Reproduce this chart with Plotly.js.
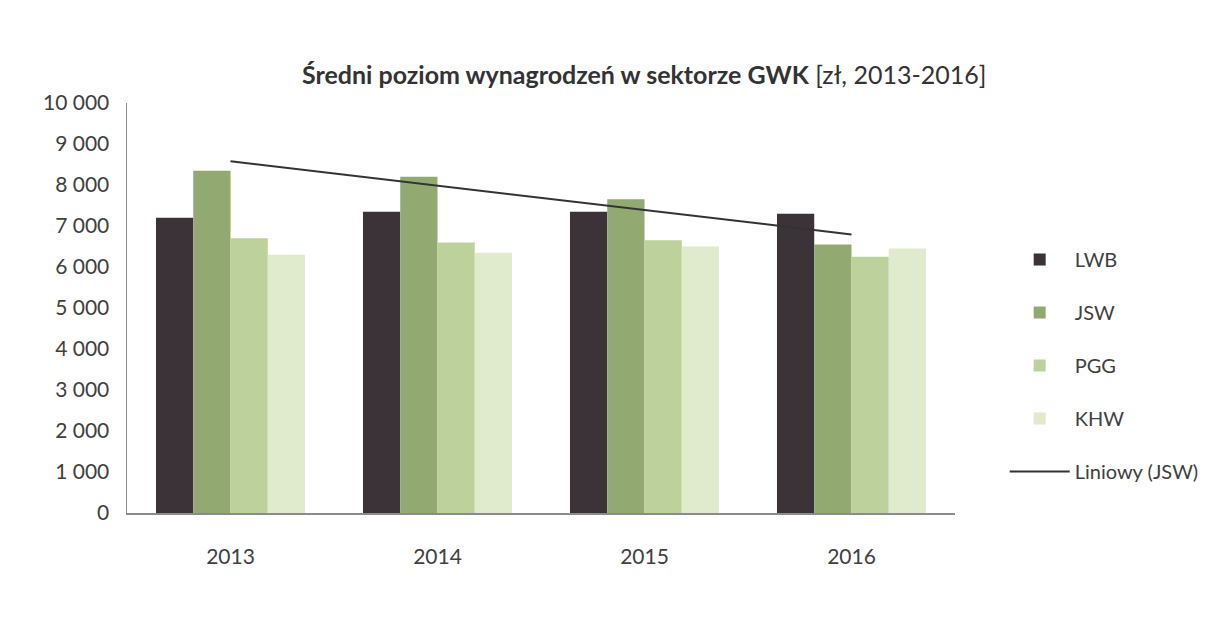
<!DOCTYPE html>
<html>
<head>
<meta charset="utf-8">
<script src="https://cdn.plot.ly/plotly-3.0.1.min.js"></script>
<style>html,body{margin:0;padding:0;background:#fff;}#chart{width:1227px;height:625px;}</style>
</head>
<body>
<div id="chart"></div>
<script>
const years = ['2013', '2014', '2015', '2016'];
const lwb = [7200, 7350, 7350, 7300];
const jsw = [8350, 8200, 7650, 6550];
const pgg = [6700, 6600, 6650, 6250];
const khw = [6300, 6350, 6500, 6450];
const seriesNames = ['LWB', 'JSW', 'PGG', 'KHW'];
const trendName = 'Liniowy (JSW)';
const titleBold = 'Średni poziom wynagrodzeń w sektorze GWK';
const titleRest = '[zł, 2013-2016]';

// linear trend of JSW (as in Excel "Liniowy")
const n = jsw.length;
const xs = jsw.map((_, i) => i + 1);
const mx = xs.reduce((a, b) => a + b, 0) / n;
const my = jsw.reduce((a, b) => a + b, 0) / n;
let sxy = 0, sxx = 0;
for (let i = 0; i < n; i++) { sxy += (xs[i] - mx) * (jsw[i] - my); sxx += (xs[i] - mx) ** 2; }
const slope = sxy / sxx;
const trend = xs.map(x => my + slope * (x - mx));

const colors = ['#3b3337', '#92aa72', '#bcd19b', '#dfebcc'];
const data = [lwb, jsw, pgg, khw].map((vals, i) => ({
  type: 'bar', name: seriesNames[i], x: years, y: vals, legendgroup: 'g' + i,
  marker: {color: colors[i]}
}));
data.push({
  type: 'scatter', mode: 'lines', name: trendName, x: years, y: trend, legendgroup: 'g4',
  line: {color: '#333333', width: 2}
});

const font = {family: 'Lato, "Open Sans", sans-serif', color: '#404040'};
const layout = {
  width: 1227, height: 625,
  paper_bgcolor: '#ffffff', plot_bgcolor: '#ffffff',
  font: Object.assign({}, font, {size: 21}),
  separators: ', ',
  margin: {l: 127, r: 272, t: 103, b: 112},
  title: {text: '<b>' + titleBold + '</b> ' + titleRest, x: 0.525, xanchor: 'center', y: 0.88, yanchor: 'middle',
          font: Object.assign({}, font, {size: 25, color: '#333333'})},
  barmode: 'group', bargap: 0.28, bargroupgap: 0,
  xaxis: {type: 'category', showline: true, linecolor: '#8c8c8c', linewidth: 1.5, showgrid: false,
          ticks: '', ticklabelstandoff: 24, tickfont: {size: 21, color: '#404040'}},
  yaxis: {range: [0, 10000], dtick: 1000, tickformat: ',d', showline: true, linecolor: '#8c8c8c', linewidth: 1.5,
          showgrid: false, zeroline: false, ticks: '', ticklabelstandoff: 12, tickfont: {size: 21, color: '#404040'}},
  legend: {x: 1.06, xanchor: 'left', y: 0.36, yanchor: 'middle', tracegroupgap: 24, traceorder: 'grouped',
           font: {size: 20, color: '#404040'}, itemwidth: 60, bgcolor: 'rgba(0,0,0,0)'},
  showlegend: true
};
Plotly.newPlot('chart', data, layout, {displayModeBar: false, staticPlot: true});
</script>
</body>
</html>
